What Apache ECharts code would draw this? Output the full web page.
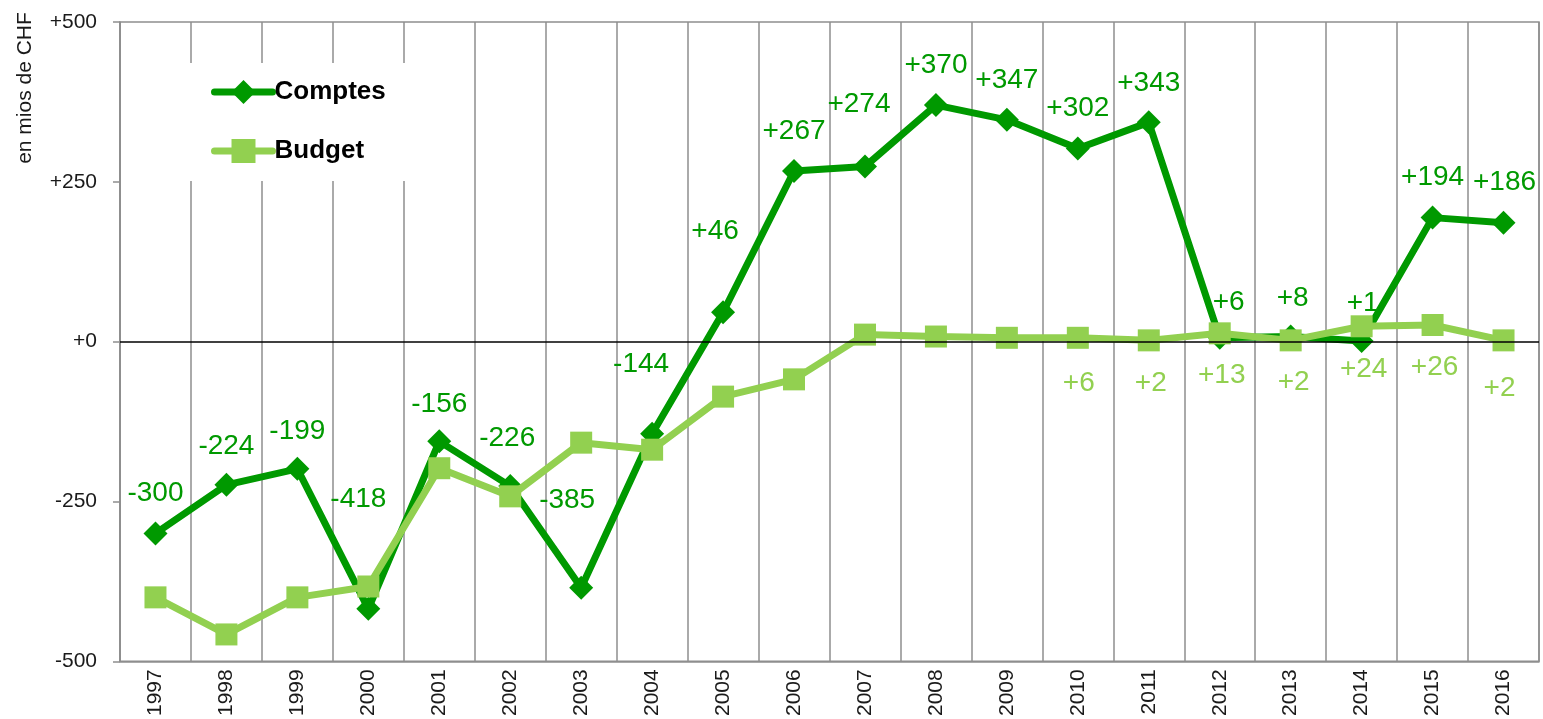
<!DOCTYPE html>
<html><head><meta charset="utf-8">
<script src="https://cdn.jsdelivr.net/npm/echarts@6/dist/echarts.min.js"></script>
<style>html,body{margin:0;padding:0;background:#fff}#c{width:1543px;height:719px}</style>
</head><body><div id="c"></div>
<script>
// ---- data ----
const years = ['1997','1998','1999','2000','2001','2002','2003','2004','2005','2006','2007','2008','2009','2010','2011','2012','2013','2014','2015','2016'];
const comptes = [-300,-224,-199,-418,-156,-226,-385,-144,46,267,274,370,347,302,343,6,8,1,194,186];
const budget = [-400,-458,-400,-383,-198,-242,-158,-169,-86,-59,11,8,6,6,2,13,2,24,26,2];
const yTicks = [-500,-250,0,250,500];
const seriesNames = ['Comptes','Budget'];
const yAxisTitle = 'en mios de CHF';

// ---- label placement (style, not data) ----
const comptesLabelOffset = [[0,-40],[0,-39],[0,-38],[-10,-110],[0,-37],[-3,-48],[-14,-87],[-11,-69],[-8,-81],[0,-40],[-6,-62],[0,-40],[0,-40],[0,-40],[0,-39],[9,-36],[2,-38],[1,-38],[0,-40],[1,-40]];
const budgetLabelOffset = {13:[1,45],14:[2,43],15:[2,42],16:[3,42],17:[2,43],18:[2,42],19:[-4,48]};

const DARK = '#009900', LIGHT = '#92D050', GRID = '#8e8e8e';
const LBL = '"Liberation Sans Narrow","Arial Narrow","Liberation Sans",Arial,sans-serif';
const REG = '"Liberation Sans",Arial,sans-serif';
const fmt = v => (v >= 0 ? '+' + v : '' + v);

const comptesData = comptes.map((v, i) => ({
  value: v,
  label: { show: true, position: 'inside', offset: comptesLabelOffset[i] }
}));
const budgetData = budget.map((v, i) => {
  const o = budgetLabelOffset[i];
  return { value: v, label: o ? { show: true, position: 'inside', offset: o } : { show: false } };
});

const chart = echarts.init(document.getElementById('c'), null, { renderer: 'canvas' });
chart.setOption({
  animation: false,
  backgroundColor: '#fff',
  grid: { left: 120, top: 22, right: 4, bottom: 57, show: true, borderColor: GRID, borderWidth: 1.5, backgroundColor: 'transparent' },
  legend: {
    data: seriesNames,
    orient: 'vertical',
    left: 185, top: 63,
    padding: [14, 32, 15, 26],
    backgroundColor: '#fff',
    itemWidth: 58, itemHeight: 30, itemGap: 29,
    lineStyle: { width: 7, cap: 'round' },
    textStyle: { fontFamily: REG, fontSize: 26, lineHeight: 30, fontWeight: 'bold', color: '#000', padding: [0,0,0,-3] }
  },
  graphic: [{
    type: 'text', x: 25, y: 88, rotation: Math.PI / 2,
    style: { text: yAxisTitle, fontFamily: REG, fontSize: 21, fill: '#1a1a1a', align: 'center', verticalAlign: 'middle' }
  }],
  xAxis: {
    type: 'category', data: years, boundaryGap: true,
    axisLine: { show: true, onZero: false, lineStyle: { color: GRID, width: 1.5 } },
    axisTick: { show: false },
    splitLine: { show: true, interval: 0, lineStyle: { color: GRID, width: 1.5 } },
    axisLabel: { rotate: 90, interval: 0, margin: 8, fontFamily: REG, fontSize: 21, color: '#1a1a1a' }
  },
  yAxis: {
    type: 'value', min: yTicks[0], max: yTicks[yTicks.length - 1], interval: yTicks[1] - yTicks[0],
    axisLine: { show: true, lineStyle: { color: GRID, width: 1.5 } },
    axisTick: { show: true, length: 7, lineStyle: { color: GRID, width: 1.5 } },
    splitLine: { show: false },
    axisLabel: { margin: 23, formatter: fmt, fontFamily: REG, fontSize: 21, color: '#1a1a1a' }
  },
  series: [
    {
      name: '__zero', type: 'line', data: [], z: 1, silent: true,
      markLine: { silent: true, symbol: 'none', label: { show: false },
        lineStyle: { color: '#000', width: 1.5, type: 'solid' }, data: [{ yAxis: 0 }] }
    },
    {
      name: seriesNames[0], type: 'line', data: comptesData, z: 3,
      symbol: 'diamond', symbolSize: 24,
      lineStyle: { color: DARK, width: 7 }, itemStyle: { color: DARK },
      label: { color: DARK, fontFamily: LBL, fontSize: 28, formatter: p => fmt(p.value) }
    },
    {
      name: seriesNames[1], type: 'line', data: budgetData, z: 4,
      symbol: 'rect', symbolSize: 22,
      lineStyle: { color: LIGHT, width: 7 }, itemStyle: { color: LIGHT },
      label: { color: LIGHT, fontFamily: LBL, fontSize: 28, formatter: p => fmt(p.value) }
    }
  ]
});
</script></body></html>
